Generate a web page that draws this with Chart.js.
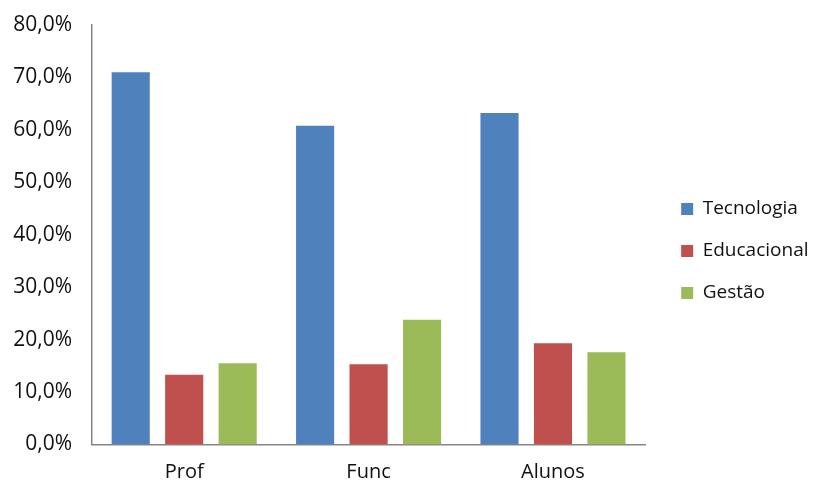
<!DOCTYPE html>
<html>
<head>
<meta charset="utf-8">
<script src="https://cdn.jsdelivr.net/npm/chart.js@4/dist/chart.umd.min.js"></script>
<style>
  html, body { margin: 0; padding: 0; background: #fff; }
  #wrap { width: 813px; height: 482px; position: relative; }
</style>
</head>
<body>
<div id="wrap"><canvas id="c"></canvas></div>
<script>
// Groups along the x axis
const categories = ['Prof', 'Func', 'Alunos'];

// Share per group (percent)
const tecnologia = [71.0, 60.8, 63.2];
const educacional = [13.3, 15.3, 19.3];
const gestao = [15.5, 23.8, 17.6];

const seriesNames = ['Tecnologia', 'Educacional', 'Gestão'];
const seriesColors = ['#4F81BD', '#C0504D', '#9BBB59'];

// Value axis range
const yMin = 0;
const yMax = 80;
const yStep = 10;

const axisColor = '#868686';
const textColor = '#111';
const fontFamily = '"Open Sans"';

const fmtPct = v => v.toFixed(1).replace('.', ',') + '%';

function draw() {
  new Chart(document.getElementById('c'), {
    type: 'bar',
    data: {
      labels: categories,
      datasets: [tecnologia, educacional, gestao].map((vals, i) => ({
        label: seriesNames[i],
        data: vals,
        backgroundColor: seriesColors[i],
        borderWidth: 0,
        categoryPercentage: 0.87,
        barPercentage: 0.713
      }))
    },
    options: {
      responsive: true,
      maintainAspectRatio: false,
      animation: false,
      layout: { padding: { top: 25, right: -5.5, bottom: -11, left: 0 } },
      plugins: {
        tooltip: { enabled: false },
        legend: {
          position: 'right',
          align: 'start',
          // empty title used only as top offset for the legend items
          title: {
            display: true,
            text: '',
            font: { family: fontFamily, size: 10 },
            padding: { top: 0, bottom: 139.5 }
          },
          labels: {
            boxWidth: 12,
            boxHeight: 12,
            padding: 23,
            color: textColor,
            font: { family: fontFamily, size: 19 }
          }
        }
      },
      scales: {
        x: {
          grid: { display: false, drawTicks: false },
          border: { display: true, color: axisColor, width: 1.5 },
          ticks: {
            color: textColor,
            padding: 16,
            font: { family: fontFamily, size: 20 }
          },
          afterFit: s => { s.height = 48.5; }
        },
        y: {
          min: yMin,
          max: yMax,
          grid: { display: false, drawTicks: false },
          border: { display: true, color: axisColor, width: 1.5 },
          ticks: {
            stepSize: yStep,
            color: textColor,
            padding: 20,
            font: { family: fontFamily, size: 21 },
            callback: v => fmtPct(v)
          },
          afterFit: s => { s.width = 92; s.paddingTop = 0; }
        },
        // hidden spacer keeping a gap between the plot and the legend
        gap: {
          position: 'right',
          display: false,
          afterFit: s => { s.width = 13; }
        }
      }
    }
  });
}

Promise.all([
  document.fonts.load('19px "Open Sans"'),
  document.fonts.load('21px "Open Sans"')
]).then(draw, draw);
</script>
</body>
</html>
